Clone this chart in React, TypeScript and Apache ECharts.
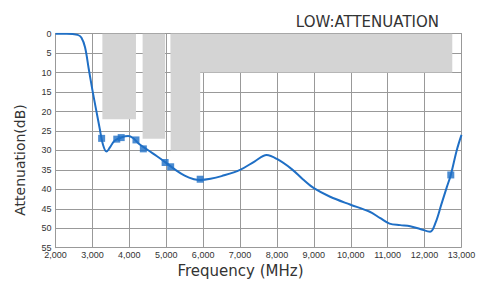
import React, { useEffect, useRef } from "react";
import * as echarts from "echarts";

const freqs = [2000, 2300, 2600, 2700, 2800, 2900, 3000, 3100, 3200, 3280, 3380, 3470, 3600, 3800, 3970, 4100, 4250, 4500, 4750, 5000, 5250, 5500, 5750, 5920, 6200, 6500, 7000, 7400, 7720, 8000, 8400, 8700, 9000, 9440, 9980, 10500, 10800, 11050, 11340, 11610, 11880, 12150, 12300, 12450, 12600, 12710, 12870, 13000];
const atten = [0, 0, 0.3, 1, 3.5, 9, 14.5, 19.5, 24.5, 28.3, 30.3, 29.3, 27.5, 26.6, 26.3, 26.8, 28.2, 29.9, 31.5, 33.2, 35, 36.5, 37.4, 37.6, 37.3, 36.6, 35, 32.8, 31.2, 32.2, 34.8, 37.4, 39.7, 41.9, 43.9, 45.7, 47.4, 48.8, 49.2, 49.5, 50.2, 50.9, 48.5, 44, 39.5, 36.3, 30, 26];

const markerFreqs = [3250, 3660, 3780, 4180, 4380, 4970, 5120, 5920, 12710];
const markerAtten = [26.9, 27.1, 26.7, 27.3, 29.6, 33.1, 34.2, 37.4, 36.3];

// spec mask areas: from/to frequency and depth in dB (from 0)
const maskFrom = [3270, 4360, 5120, 5120];
const maskTo = [4180, 4970, 5920, 12750];
const maskDb = [22, 27, 30, 10];

const xTicks = [2000, 3000, 4000, 5000, 6000, 7000, 8000, 9000, 10000, 11000, 12000, 13000];
const yTicks = [0, 5, 10, 15, 20, 25, 30, 35, 40, 45, 50, 55];

const BLUE = "#1f6fc5";

export default function App() {
  const ref = useRef<HTMLDivElement>(null);
  useEffect(() => {
    if (!ref.current) return;
    const chart = echarts.init(ref.current, null, { renderer: "svg" });
    const grid = { left: 55.5, right: 17.5, top: 33.7, bottom: 36.3 };
    chart.setOption({
      animation: false,
      backgroundColor: "#fff",
      title: {
        text: "LOW:ATTENUATION",
        right: 35,
        top: 9,
        textStyle: { fontSize: 15, fontWeight: "normal", color: "#333", fontFamily: "DejaVu Sans" },
      },
      grid,
      xAxis: {
        type: "value",
        min: xTicks[0],
        max: xTicks[xTicks.length - 1],
        interval: 1000,
        axisLine: { show: true, lineStyle: { color: "#999" } },
        axisTick: { show: false },
        splitLine: { show: true, lineStyle: { color: "#999", width: 1 } },
        axisLabel: {
          fontSize: 9,
          color: "#333",
          margin: 3,
          fontFamily: "Liberation Sans",
          formatter: (v: number) => v.toLocaleString("en-US"),
        },
      },
      yAxis: {
        type: "value",
        inverse: true,
        min: yTicks[0],
        max: yTicks[yTicks.length - 1],
        interval: 5,
        axisLine: { show: true, lineStyle: { color: "#999" } },
        axisTick: { show: false },
        splitLine: { show: true, lineStyle: { color: "#999", width: 1 } },
        axisLabel: { fontSize: 9, color: "#333", margin: 4, fontFamily: "Liberation Sans" },
      },
      graphic: [
        {
          type: "text",
          x: 20,
          y: 160,
          rotation: Math.PI / 2,
          style: {
            text: "Attenuation(dB)",
            fontSize: 14,
            fill: "#333",
            fontFamily: "DejaVu Sans",
            align: "center",
            verticalAlign: "middle",
          },
        },
        {
          type: "text",
          x: 240.5,
          y: 270.5,
          style: {
            text: "Frequency (MHz)",
            fontSize: 15,
            fill: "#333",
            fontFamily: "DejaVu Sans",
            align: "center",
            verticalAlign: "middle",
          },
        },
      ],
      series: [
        {
          type: "line",
          data: freqs.map((f, i) => [f, atten[i]]),
          smooth: 0.35,
          showSymbol: false,
          lineStyle: { color: BLUE, width: 2 },
          itemStyle: { color: BLUE },
          z: 3,
          markArea: {
            silent: true,
            itemStyle: { color: "#d4d4d4" },
            data: maskFrom.map((f, i) => [
              { xAxis: f, yAxis: 0 },
              { xAxis: maskTo[i], yAxis: maskDb[i] },
            ]),
          },
        },
        {
          type: "scatter",
          data: markerFreqs.map((f, i) => [f, markerAtten[i]]),
          symbol: "rect",
          symbolSize: 7,
          itemStyle: { color: BLUE },
          z: 4,
        },
      ],
    });
    return () => chart.dispose();
  }, []);
  return (
    <div
      ref={ref}
      style={{ position: "fixed", left: 0, top: 0, width: 479, height: 284, background: "#fff" }}
    />
  );
}
